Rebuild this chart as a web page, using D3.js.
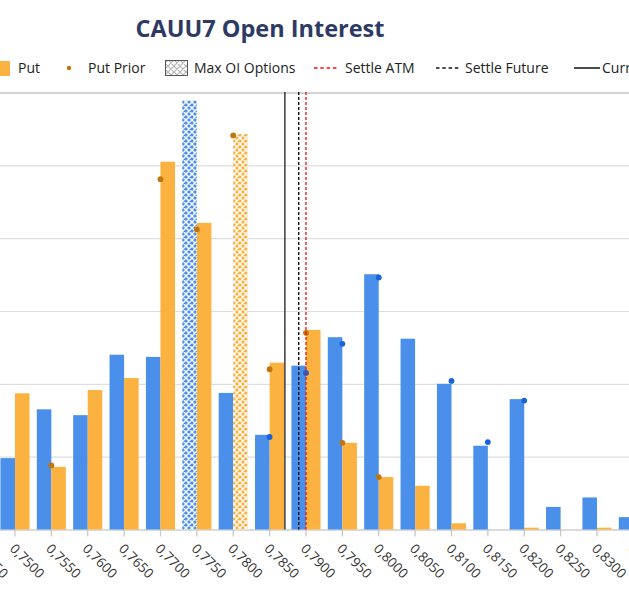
<!DOCTYPE html>
<html><head><meta charset="utf-8">
<script src="https://cdn.jsdelivr.net/npm/d3@7"></script>
<style>
html,body{margin:0;padding:0;background:#fff;overflow:hidden}
svg{display:block}
</style></head>
<body>
<svg id="c" width="629" height="595"></svg>
<script>
// ---- data (open interest, in thousands of contracts; y axis not visible in crop) ----
const strikes = ["0,7450","0,7500","0,7550","0,7600","0,7650","0,7700","0,7750","0,7800","0,7850","0,7900",
                 "0,7950","0,8000","0,8050","0,8100","0,8150","0,8200","0,8250","0,8300","0,8350"];
const strikeValues = [0.7450,0.7500,0.7550,0.7600,0.7650,0.7700,0.7750,0.7800,0.7850,0.7900,
                      0.7950,0.8000,0.8050,0.8100,0.8150,0.8200,0.8250,0.8300,0.8350];
const callOI   = [null,0.98,1.65,1.57,2.40,2.37,5.89,1.875,1.30,2.25,2.64,3.505,2.62,2.0,1.15,1.79,0.31,0.44,0.17];
const putOI    = [null,1.87,0.86,1.915,2.08,5.05,4.21,5.43,2.29,2.74,1.19,0.72,0.60,0.085,0,0.025,0,0.025,null];
const callPrior= [null,null,null,null,null,null,null,null,1.27,2.15,2.55,3.46,null,2.04,1.20,1.77,null,null,null];
const putPrior = [null,null,0.88,null,null,4.81,4.12,5.41,2.20,2.70,1.19,0.72,null,null,null,null,null,null,null];
const maxOICall = "0,7750";
const maxOIPut  = "0,7800";
const settleATM = 0.7900;
const settleFuture = 0.7890;
const currentPrice = 0.7871;
const yTicks = [0,1,2,3,4,5,6];
const title = "CAUU7 Open Interest";
const legendItems = ["Call","Call Prior","Put","Put Prior","Max OI Options","Settle ATM","Settle Future","Current"];

// ---- styles ----
const BLUE = "#4a8fea", ORANGE = "#fbb241", BLUE_DOT = "#1a63d6", ORANGE_DOT = "#c0750e";
const svg = d3.select("#c");
const step = 36.375, firstCenter = -21.4;
const x = d3.scaleBand().domain(strikes)
  .range([firstCenter - step/2, firstCenter - step/2 + step*strikes.length]).padding(0);
const xs = d3.scaleBand().domain(["call","put"]).range([x.bandwidth()*0.1, x.bandwidth()*0.9]);
const xLin = d3.scaleLinear().domain([strikeValues[0], strikeValues[strikeValues.length-1]])
  .range([x(strikes[0]) + x.bandwidth()/2, x(strikes[strikes.length-1]) + x.bandwidth()/2]);
const y = d3.scaleLinear().domain([0,6]).range([529.5, 92.5]);

// patterns
const defs = svg.append("defs");
function hatch(id, lineCol, bg, s, sw){
  const p = defs.append("pattern").attr("id", id).attr("patternUnits","userSpaceOnUse")
    .attr("width",s).attr("height",s);
  p.append("rect").attr("width",s).attr("height",s).attr("fill",bg);
  p.append("path").attr("d",`M0,0L${s},${s}M${s},0L0,${s}M-1,${s-1}L1,${s+1}M${s-1},-1L${s+1},1M${s-1},${s+1}L${s+1},${s-1}M-1,1L1,-1`)
    .attr("stroke",lineCol).attr("stroke-width",sw).attr("fill","none");
}
hatch("hBlue", "#ffffff", BLUE, 6, 1.4);
hatch("hOrange", "#ffffff", ORANGE, 6, 1.4);
hatch("hLegend", "#b5b5b5", "#ffffff", 6, 1.2);

// title
svg.append("text").attr("x",260).attr("y",37).attr("text-anchor","middle")
  .attr("font-family","Open Sans").attr("font-weight","bold").attr("font-size",23.5)
  .attr("fill","#2d3b64").text(title);

// grid
svg.append("g").selectAll("line").data(yTicks.slice(1)).join("line")
  .attr("x1",0).attr("x2",629).attr("y1",d=>y(d)+0.5).attr("y2",d=>y(d)+0.5)
  .attr("stroke",d=>d===6?"#c4c4c4":"#dedede").attr("stroke-width",d=>d===6?1.5:1.2);

// x axis
const xAxis = d3.axisBottom(x).tickSize(7).tickFormat("");
const gx = svg.append("g").attr("transform",`translate(0,${y(0)})`).call(xAxis);
gx.select(".domain").attr("stroke","#cfcfcf").attr("stroke-width",1.3);
gx.selectAll(".tick line").attr("stroke","#c8c8c8").attr("stroke-width",1.3);
gx.selectAll(".tick").append("text")
  .attr("transform","translate(-6,20) rotate(45)")
  .attr("text-anchor","start").attr("fill","#333").attr("font-family","Open Sans")
  .attr("font-size",13.5).text(d=>d);

// bars
const rows = strikes.map((s,i)=>({s, call:callOI[i], put:putOI[i], cp:callPrior[i], pp:putPrior[i]}));
const g = svg.append("g");
g.selectAll(".cb").data(rows.filter(r=>r.call!=null)).join("rect")
  .attr("x",r=>x(r.s)+xs("call")).attr("width",xs.bandwidth())
  .attr("y",r=>y(r.call)).attr("height",r=>y(0)-y(r.call))
  .attr("fill",r=>r.s===maxOICall?"url(#hBlue)":BLUE);
g.selectAll(".pb").data(rows.filter(r=>r.put!=null && r.put>0)).join("rect")
  .attr("x",r=>x(r.s)+xs("put")).attr("width",xs.bandwidth())
  .attr("y",r=>y(r.put)).attr("height",r=>y(0)-y(r.put))
  .attr("fill",r=>r.s===maxOIPut?"url(#hOrange)":ORANGE);

// vertical reference lines
const vl = svg.append("g");
vl.append("line").attr("x1",xLin(currentPrice)).attr("x2",xLin(currentPrice)).attr("y1",92).attr("y2",y(0))
  .attr("stroke","#3a3a3a").attr("stroke-width",1.5);
vl.append("line").attr("x1",xLin(settleFuture)).attr("x2",xLin(settleFuture)).attr("y1",92).attr("y2",y(0))
  .attr("stroke","#111").attr("stroke-width",1.4).attr("stroke-dasharray","3,2");
vl.append("line").attr("x1",xLin(settleATM)).attr("x2",xLin(settleATM)).attr("y1",92).attr("y2",y(0))
  .attr("stroke","#ee1111").attr("stroke-width",1.3).attr("stroke-dasharray","3,2");

// prior dots
g.selectAll(".cd").data(rows.filter(r=>r.cp!=null)).join("circle")
  .attr("cx",r=>x(r.s)+xs("call")+xs.bandwidth()).attr("cy",r=>y(r.cp)).attr("r",2.9).attr("fill",BLUE_DOT);
g.selectAll(".pd").data(rows.filter(r=>r.pp!=null)).join("circle")
  .attr("cx",r=>x(r.s)+xs("put")).attr("cy",r=>y(r.pp)).attr("r",2.9).attr("fill",ORANGE_DOT);

// legend
const lg = svg.append("g").attr("font-family","Open Sans").attr("font-size",14).attr("fill","#222");
const ly = 68, lty = 73;
// offscreen Call entries
lg.append("rect").attr("x",-160).attr("y",61).attr("width",15).attr("height",15).attr("fill",BLUE);
lg.append("text").attr("x",-138).attr("y",lty).text(legendItems[0]);
lg.append("circle").attr("cx",-90).attr("cy",ly).attr("r",2.2).attr("fill",BLUE_DOT);
lg.append("text").attr("x",-72).attr("y",lty).text(legendItems[1]);
// visible
lg.append("rect").attr("x",-5).attr("y",61).attr("width",15).attr("height",15).attr("fill",ORANGE);
lg.append("text").attr("x",18).attr("y",lty).text(legendItems[2]);
lg.append("circle").attr("cx",69).attr("cy",ly).attr("r",2.2).attr("fill",ORANGE_DOT);
lg.append("text").attr("x",88).attr("y",lty).text(legendItems[3]);
lg.append("rect").attr("x",165.5).attr("y",60.5).attr("width",22).attr("height",15)
  .attr("fill","url(#hLegend)").attr("stroke","#555").attr("stroke-width",1);
lg.append("text").attr("x",194).attr("y",lty).text(legendItems[4]);
lg.append("line").attr("x1",314).attr("x2",339).attr("y1",ly).attr("y2",ly)
  .attr("stroke","#ee1111").attr("stroke-width",1.3).attr("stroke-dasharray","3.5,2.8");
lg.append("text").attr("x",345).attr("y",lty).text(legendItems[5]);
lg.append("line").attr("x1",436).attr("x2",460).attr("y1",ly).attr("y2",ly)
  .attr("stroke","#111").attr("stroke-width",1.3).attr("stroke-dasharray","3.5,2.8");
lg.append("text").attr("x",465).attr("y",lty).text(legendItems[6]);
lg.append("line").attr("x1",574).attr("x2",600).attr("y1",ly).attr("y2",ly)
  .attr("stroke","#111").attr("stroke-width",1.5);
lg.append("text").attr("x",602).attr("y",lty).text(legendItems[7]);
</script>
</body></html>
